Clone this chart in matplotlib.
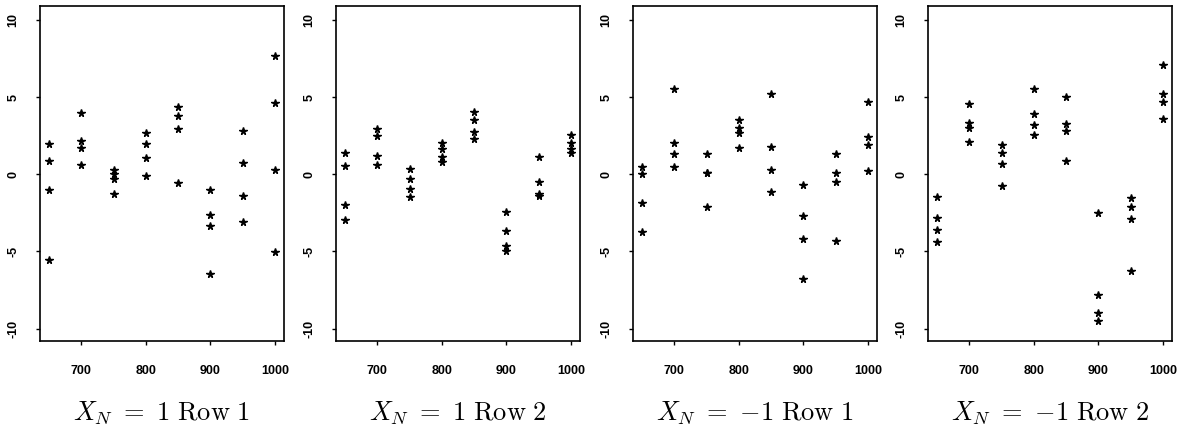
import matplotlib
matplotlib.use("Agg")
import matplotlib.pyplot as plt

plt.rcParams['mathtext.fontset'] = 'cm'
plt.rcParams['font.family'] = ['Liberation Sans', 'DejaVu Sans']

#Data
x_levels = [650, 700, 750, 800, 850, 900, 950, 1000]

panel1 = [[1.99, 0.89, -0.99, -5.55],
          [4.0, 2.16, 1.68, 0.6],
          [0.25, 0.0, -0.3, -1.3],
          [2.68, 1.99, 1.08, -0.11],
          [4.34, 3.8, 2.94, -0.58],
          [-1.04, -2.66, -3.37, -6.44],
          [2.81, 0.73, -1.4, -3.07],
          [7.65, 4.64, 0.26, -5.01]]

panel2 = [[1.36, 0.56, -1.97, -2.96],
          [2.92, 2.48, 1.19, 0.6],
          [0.32, -0.3, -0.95, -1.45],
          [2.05, 1.64, 1.14, 0.78],
          [4.04, 3.52, 2.72, 2.31],
          [-2.44, -3.67, -4.62, -4.95],
          [1.1, -0.48, -1.27, -1.4],
          [2.53, 2.0, 1.66, 1.36]]

panel3 = [[0.49, 0.05, -1.85, -3.77],
          [5.52, 2.04, 1.31, 0.44],
          [1.29, 0.1, 0.08, -2.11],
          [3.51, 2.97, 2.69, 1.72],
          [5.22, 1.76, 0.25, -1.16],
          [-0.7, -2.69, -4.18, -6.76],
          [1.31, 0.1, -0.49, -4.31],
          [4.7, 2.41, 1.87, 0.21]]

panel4 = [[-1.46, -2.86, -3.58, -4.38],
          [4.58, 3.3, 3.03, 2.1],
          [1.89, 1.4, 0.68, -0.76],
          [5.51, 3.89, 3.22, 2.54],
          [5.01, 3.24, 2.81, 0.88],
          [-2.54, -7.82, -8.99, -9.53],
          [-1.51, -2.1, -2.92, -6.27],
          [7.1, 5.22, 4.68, 3.58]]

titles = [r'$X_N\ =\ 1\ \mathrm{Row\ 1}$', r'$X_N\ =\ 1\ \mathrm{Row\ 2}$',
          r'$X_N\ =\ {-}1\ \mathrm{Row\ 1}$', r'$X_N\ =\ {-}1\ \mathrm{Row\ 2}$']
panels = [panel1, panel2, panel3, panel4]

#Graph
fig = plt.figure(figsize=(11.83, 4.30), dpi=100)
lefts = [40, 336, 633, 928]

for left, data, title in zip(lefts, panels, titles):
    ax = fig.add_axes([left / 1183, 0.207, 244 / 1183, 0.779])
    for xv, ys in zip(x_levels, data):
        ax.plot([xv] * len(ys), ys, linestyle='none', marker='*',
                color='black', markersize=5.5)
    ax.set_xlim(636, 1014)
    ax.set_ylim(-10.8, 10.9)
    ax.set_xticks([700, 800, 900, 1000])
    ax.set_yticks([-10, -5, 0, 5, 10])
    ax.set_yticklabels(['-10', '-5', '0', '5', '10'], rotation=90, va='center')
    ax.set_xticklabels(['700', '800', '900', '1000'])
    ax.tick_params(direction='out', length=3, width=1, labelsize=9)
    ax.tick_params(axis='x', pad=14)
    ax.tick_params(axis='y', pad=12)
    for lbl in ax.get_xticklabels() + ax.get_yticklabels():
        lbl.set_fontweight('bold')
    for s in ax.spines.values():
        s.set_linewidth(1.2)
    ax.text(0.5, -0.215, title, transform=ax.transAxes, ha='center',
            va='center', fontsize=19)

fig.savefig("out.png", dpi=100)
